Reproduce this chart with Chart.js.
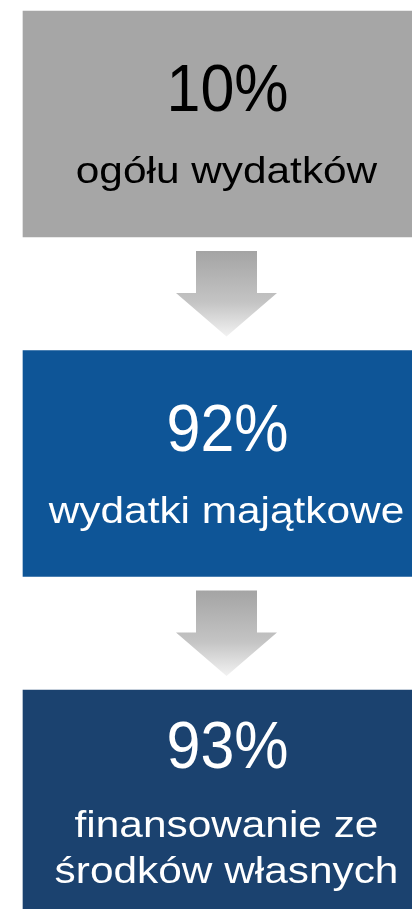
<!DOCTYPE html>
<html>
<head>
<meta charset="utf-8">
<script src="https://cdn.jsdelivr.net/npm/chart.js@4"></script>
<style>
  html, body { margin: 0; padding: 0; background: #fff; overflow: hidden; }
  #wrap { width: 430px; height: 909px; }
</style>
</head>
<body>
<div id="wrap"><canvas id="flowChart" width="430" height="909"></canvas></div>
<script>
// Data
const percentLabels = ['10%', '92%', '93%'];
const percents = [10, 92, 93];
const captions = [['ogółu wydatków'], ['wydatki majątkowe'], ['finansowanie ze', 'środków własnych']];
const boxFull = [100, 100, 100];
const boxColors = ['#a6a6a6', '#0e5597', '#1b426f'];
const textColors = ['#000000', '#ffffff', '#ffffff'];

// text drawn centred at cx, stretched horizontally by sx
function fillScaled(ctx, text, cx, y, sx) {
    ctx.save();
    ctx.translate(cx, y);
    ctx.scale(sx, 1);
    ctx.fillText(text, 0, 0);
    ctx.restore();
}

// Draws percent + caption on each box and the arrows between boxes
const flowPlugin = {
    id: 'flowPlugin',
    afterDatasetsDraw(chart) {
        const ctx = chart.ctx;
        const bars = chart.getDatasetMeta(0).data;
        ctx.save();

        // arrows between boxes
        for (let i = 0; i < bars.length - 1; i++) {
            const a = bars[i].getProps(['x', 'y', 'base', 'height'], true);
            const b = bars[i + 1].getProps(['x', 'y', 'base', 'height'], true);
            const cx = (a.x + a.base) / 2;
            const top = a.y + a.height / 2 + 14;
            const tip = b.y - b.height / 2 - 14;
            const headY = top + (tip - top) * 0.49;
            const grad = ctx.createLinearGradient(0, top, 0, tip);
            grad.addColorStop(0, '#a4a4a4');
            grad.addColorStop(0.6, '#c4c4c4');
            grad.addColorStop(1, '#f2f2f2');
            ctx.fillStyle = grad;
            ctx.beginPath();
            ctx.moveTo(cx - 30.5, top);
            ctx.lineTo(cx + 30.5, top);
            ctx.lineTo(cx + 30.5, headY);
            ctx.lineTo(cx + 50.5, headY);
            ctx.lineTo(cx, tip);
            ctx.lineTo(cx - 50.5, headY);
            ctx.lineTo(cx - 30.5, headY);
            ctx.closePath();
            ctx.fill();
        }

        // texts
        ctx.textAlign = 'center';
        ctx.textBaseline = 'alphabetic';
        bars.forEach((bar, i) => {
            const p = bar.getProps(['x', 'y', 'base'], true);
            const cx = (p.x + p.base) / 2;
            const lines = captions[i];
            const pctY = lines.length > 1 ? p.y - 35 : p.y - 13;
            ctx.fillStyle = textColors[i];
            ctx.font = '67px "Liberation Sans", Arial, sans-serif';
            fillScaled(ctx, percentLabels[i], cx + 1, pctY, 0.91);
            ctx.font = '37px "Liberation Sans", Arial, sans-serif';
            let y = lines.length > 1 ? p.y + 34 : p.y + 59;
            lines.forEach(line => {
                fillScaled(ctx, line, cx, y, 1.145);
                y += 46;
            });
        });
        ctx.restore();
    }
};

const chartCtx = document.getElementById('flowChart').getContext('2d');
new Chart(chartCtx, {
    type: 'bar',
    data: {
        labels: captions.map(c => c.join(' ')),
        datasets: [{
            label: 'udział',
            data: boxFull,
            backgroundColor: boxColors,
            borderWidth: 0,
            barThickness: 226,
            clip: false
        }]
    },
    options: {
        indexAxis: 'y',
        responsive: false,
        animation: false,
        layout: { padding: { left: 23, right: 0, top: 124, bottom: 106 } },
        plugins: {
            legend: { display: false },
            tooltip: { enabled: false }
        },
        scales: {
            x: { display: false, min: 0, max: 100 },
            y: { display: false, offset: false, grid: { offset: false } }
        }
    },
    plugins: [flowPlugin]
});
</script>
</body>
</html>
